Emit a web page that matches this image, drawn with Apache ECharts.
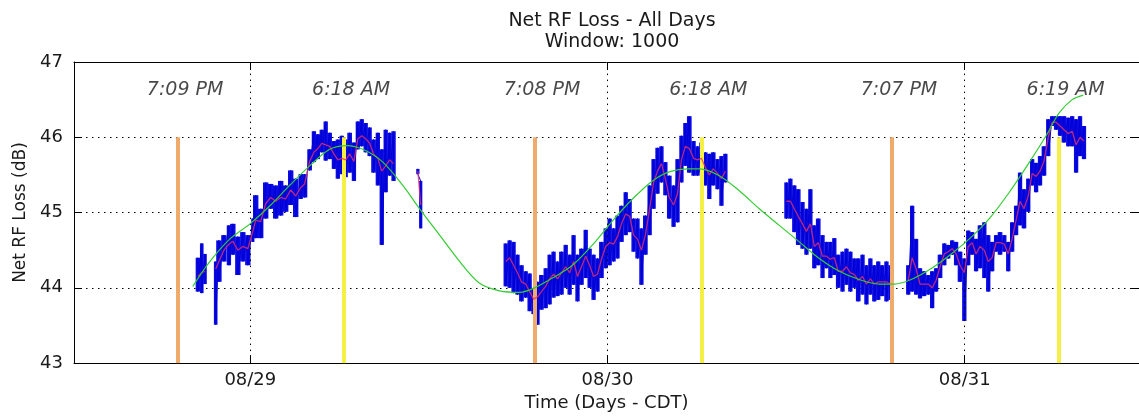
<!DOCTYPE html>
<html><head><meta charset="utf-8">
<script src="https://cdn.jsdelivr.net/npm/echarts@6/dist/echarts.min.js"></script>
<style>html,body{margin:0;padding:0;background:#fff}#c{width:1139px;height:417px}</style>
</head><body><div id="c"></div>
<script>
// time unit: days relative to 08/29 00:00 CDT
const xTickValues = [0, 1, 2];
const xTickLabels = ['08/29', '08/30', '08/31'];
const sunsetTimes = [-0.2021, 0.7972, 1.7965];
const sunsetLabels = ['7:09 PM', '7:08 PM', '7:07 PM'];
const sunriseTimes = [0.2625, 1.2625, 2.2632];
const sunriseLabels = ['6:18 AM', '6:18 AM', '6:19 AM'];
const markerBottom = 43, markerTop = 46, labelLevel = 46.63;

// raw data envelope (per time bin): high / low, and moving average (window 1000)
const rawT = [-0.147,-0.136,-0.127,null,
 -0.097,-0.088,-0.074,-0.060,-0.049,-0.035,-0.021,-0.007,0.007,0.015,0.029,0.043,0.057,0.071,0.085,0.099,
 0.113,0.127,0.141,0.152,0.166,0.178,0.189,0.200,0.211,0.222,0.234,0.245,0.256,0.267,0.278,0.290,
 0.301,0.312,0.323,0.334,0.345,0.357,0.368,0.379,0.390,0.401,null,0.469,0.477,null,
 0.715,0.726,0.737,0.748,0.759,0.771,0.782,0.793,0.804,0.815,0.827,0.838,0.849,0.860,0.871,0.883,
 0.894,0.905,0.916,0.927,0.939,0.950,0.961,0.972,0.983,0.995,1.006,1.017,1.028,1.039,1.051,1.062,
 1.073,1.084,1.095,1.106,1.118,1.129,1.140,1.151,1.162,1.173,1.185,1.196,1.207,1.218,1.229,1.241,
 1.252,1.263,1.274,1.285,1.296,1.308,1.319,1.330,null,
 1.501,1.512,1.523,1.534,1.546,1.557,1.568,1.579,1.590,1.602,1.613,1.624,1.635,1.646,1.658,1.669,
 1.680,1.691,1.702,1.714,1.725,1.736,1.747,1.758,1.769,1.781,1.792,null,
 1.842,1.853,1.864,1.875,1.886,1.898,1.909,1.920,1.931,1.943,1.954,1.965,1.976,1.987,1.999,2.010,
 2.021,2.032,2.043,2.055,2.066,2.077,2.088,2.099,2.111,2.122,2.133,2.144,2.155,2.166,2.178,2.189,
 2.200,2.211,2.222,2.234,2.245,2.256,2.267,2.278,2.290,2.301,2.312,2.323,2.334];
const rawHi = [44.40,44.59,44.45,null,
 44.35,44.63,44.70,44.83,44.85,44.68,44.74,44.70,44.92,45.23,45.05,45.40,45.38,45.36,45.42,45.36,
 45.56,45.45,45.51,45.51,45.84,46.08,46.04,46.10,46.21,46.06,45.95,45.97,46.02,45.97,46.06,45.93,
 46.21,46.24,46.19,46.13,45.97,46.06,45.84,46.10,46.06,46.08,null,45.58,45.42,null,
 44.59,44.63,44.61,44.44,44.30,44.22,44.19,44.00,44.08,44.17,44.26,44.44,44.48,44.35,44.48,44.57,
 44.44,44.70,44.44,44.52,44.77,44.52,44.44,44.39,44.61,44.79,44.92,44.79,44.96,45.09,45.27,45.18,
 44.92,44.92,44.79,44.96,45.36,45.71,45.86,45.88,45.67,45.49,45.36,45.71,46.02,46.19,46.28,45.95,
 45.88,45.93,45.80,45.78,45.80,45.71,45.75,45.78,null,
 45.40,45.45,45.36,45.31,45.14,45.05,45.31,44.83,44.92,44.70,44.61,44.61,44.66,44.44,44.48,44.52,
 44.48,44.39,44.39,44.44,44.30,44.39,44.30,44.35,44.30,44.35,44.30,null,
 44.30,45.09,44.65,44.26,44.22,44.17,44.22,44.26,44.44,44.59,44.57,44.63,44.61,44.48,44.39,44.76,
 44.74,44.65,44.83,44.87,44.70,44.61,44.70,44.74,44.70,44.61,44.87,45.09,45.53,45.31,45.45,45.71,
 45.66,45.75,45.88,46.24,46.28,46.28,46.28,46.28,46.26,46.28,46.24,46.28,46.15];
const rawLo = [43.95,43.93,44.05,null,
 43.51,44.08,44.35,44.30,44.44,44.17,44.35,44.30,44.61,44.66,44.66,44.92,45.05,44.92,44.96,45.01,
 45.10,44.94,45.18,45.20,45.56,45.67,45.71,45.80,45.69,45.71,45.58,45.45,45.51,45.47,45.53,45.42,
 45.84,45.88,45.80,45.75,45.53,45.36,44.57,45.27,45.49,45.42,null,45.51,44.79,null,
 44.02,44.00,43.93,43.91,43.82,43.87,43.69,43.65,43.51,43.71,43.73,43.78,43.87,43.89,43.91,44.00,
 43.91,44.04,43.82,44.04,44.13,44.00,43.84,43.95,44.13,44.26,44.30,44.35,44.39,44.61,44.70,44.74,
 44.48,44.39,44.04,44.44,44.70,45.05,45.25,45.40,45.23,44.92,44.81,44.87,45.40,45.62,45.53,45.49,
 45.49,45.53,45.36,45.18,45.36,45.31,45.09,45.40,null,
 44.92,44.92,44.74,44.57,44.52,44.44,44.52,44.26,44.30,44.13,44.26,44.13,44.17,44.00,43.95,44.04,
 43.95,44.00,43.82,43.91,43.78,43.91,43.82,43.84,43.89,43.82,43.84,null,
 43.91,43.95,43.91,43.86,43.89,43.91,43.73,43.95,44.13,44.30,44.39,44.44,44.30,44.08,43.56,44.30,
 44.44,44.22,44.26,44.13,43.95,44.22,44.48,44.44,44.48,44.22,44.48,44.70,44.83,44.79,45.01,45.36,
 45.27,45.36,45.49,45.75,46.15,46.10,46.02,45.93,45.88,45.88,45.53,45.75,45.71];
const avgV = [44.15,44.20,44.22,null,
 44.25,44.35,44.50,44.58,44.62,44.50,44.55,44.52,44.75,44.90,44.88,45.12,45.20,45.15,45.20,45.18,
 45.30,45.22,45.33,45.38,45.68,45.80,45.85,45.92,45.90,45.88,45.78,45.70,45.72,45.70,45.78,45.68,
 45.98,46.02,45.98,45.92,45.78,45.72,45.55,45.62,45.70,45.65,null,45.55,45.10,null,
 44.35,44.40,44.30,44.20,44.08,44.05,43.95,43.85,43.88,43.95,44.02,44.12,44.18,44.12,44.20,44.28,
 44.20,44.35,44.15,44.28,44.42,44.30,44.15,44.18,44.38,44.55,44.60,44.58,44.68,44.85,44.98,44.95,
 44.70,44.65,44.50,44.70,45.05,45.40,45.55,45.65,45.45,45.20,45.10,45.25,45.70,45.88,45.85,45.72,
 45.70,45.72,45.60,45.50,45.58,45.52,45.45,45.55,null,
 45.15,45.15,45.05,44.95,44.85,44.75,44.85,44.55,44.60,44.42,44.42,44.38,44.40,44.22,44.22,44.28,
 44.20,44.18,44.10,44.15,44.05,44.12,44.05,44.08,44.08,44.08,44.05,null,
 44.10,44.40,44.25,44.05,44.05,44.05,44.00,44.10,44.28,44.45,44.48,44.52,44.45,44.30,44.20,44.55,
 44.60,44.45,44.55,44.50,44.35,44.40,44.60,44.60,44.58,44.45,44.65,44.90,45.15,45.05,45.22,45.52,
 45.48,45.55,45.68,46.00,46.20,46.20,46.15,46.10,46.05,46.08,45.90,46.00,45.95];

// fitted curve
const fitT = [-0.161,-0.113,-0.057,-0.001,0.055,0.110,0.166,0.222,0.270,0.315,0.371,0.427,0.474,0.530,0.586,
 0.642,0.698,0.754,0.796,0.846,0.902,0.958,1.014,1.070,1.126,1.173,1.229,1.257,1.313,1.369,1.425,1.481,
 1.537,1.593,1.649,1.705,1.761,1.803,1.845,1.901,1.957,2.013,2.069,2.125,2.180,2.228,2.264,2.301,2.332];
const fitV = [44.02,44.35,44.65,44.85,45.09,45.36,45.62,45.84,45.89,45.84,45.67,45.36,45.05,44.70,44.35,
 44.06,43.96,43.94,44.00,44.13,44.30,44.57,44.89,45.18,45.42,45.54,45.58,45.58,45.49,45.29,45.05,44.83,
 44.61,44.39,44.22,44.11,44.05,44.05,44.10,44.24,44.43,44.65,44.92,45.27,45.66,46.02,46.32,46.50,46.56];

const FONT = '"DejaVu Sans", Verdana, sans-serif';
const TXT = '#1a1a1a';

const blueLine = [], redData = [], bandData = [];
for (let i = 0; i < rawT.length; i++) {
  if (rawT[i] === null) { blueLine.push(['-', '-']); redData.push(['-', '-']); continue; }
  blueLine.push([rawT[i], rawHi[i]]);
  blueLine.push([rawT[i], rawLo[i]]);
  redData.push([rawT[i], avgV[i]]);
  const prev = i > 0 && rawT[i - 1] !== null ? rawT[i] - rawT[i - 1] : null;
  const next = i < rawT.length - 1 && rawT[i + 1] !== null ? rawT[i + 1] - rawT[i] : null;
  const dt = next !== null ? next : (prev !== null ? prev : 0.006);
  bandData.push([rawT[i], rawHi[i], rawLo[i], dt]);
}
const fitData = fitT.map((t, i) => [t, fitV[i]]);

const sunLines = [];
sunsetTimes.forEach(t => sunLines.push([{coord: [t, markerBottom], lineStyle: {color: '#efab6c'}}, {coord: [t, markerTop]}]));
sunriseTimes.forEach(t => sunLines.push([{coord: [t, markerBottom], lineStyle: {color: '#f6f046'}}, {coord: [t, markerTop]}]));

const labelData = [];
sunsetTimes.forEach((t, i) => labelData.push({value: [t, labelLevel], name: sunsetLabels[i]}));
sunriseTimes.forEach((t, i) => labelData.push({value: [t, labelLevel], name: sunriseLabels[i]}));

const xMin = -0.4937, xMax = 2.4881;

const chart = echarts.init(document.getElementById('c'), null, {renderer: 'canvas'});
chart.setOption({
  animation: false,
  backgroundColor: '#fff',
  title: {
    text: 'Net RF Loss - All Days\nWindow: 1000',
    left: 607, top: 6, textAlign: 'center',
    textStyle: {fontSize: 19, fontWeight: 'normal', lineHeight: 21, color: TXT, fontFamily: FONT}
  },
  grid: {left: 74, right: -1, top: 62, bottom: 51, containLabel: false},
  xAxis: [{
    type: 'value', position: 'bottom', min: xMin, max: xMax,
    axisLine: {show: true, onZero: false, lineStyle: {color: '#000', width: 1}},
    axisTick: {show: true, inside: true, length: 8, customValues: xTickValues, lineStyle: {color: '#000'}},
    axisLabel: {customValues: xTickValues, formatter: v => xTickLabels[xTickValues.indexOf(v)],
      fontSize: 18, color: TXT, margin: 8, fontFamily: FONT},
    splitLine: {show: false},
    name: 'Time (Days - CDT)', nameLocation: 'middle', nameGap: 30,
    nameTextStyle: {fontSize: 18, color: TXT, fontFamily: FONT}
  }, {
    type: 'value', position: 'top', min: xMin, max: xMax,
    axisLine: {show: true, onZero: false, lineStyle: {color: '#000', width: 1}},
    axisTick: {show: true, inside: true, length: 8, customValues: xTickValues, lineStyle: {color: '#000'}},
    axisLabel: {show: false}, splitLine: {show: false}
  }],
  yAxis: [{
    type: 'value', position: 'left', min: 43, max: 47, interval: 1,
    axisLine: {show: true, onZero: false, lineStyle: {color: '#000', width: 1}},
    axisTick: {show: true, inside: true, length: 8, lineStyle: {color: '#000'}},
    axisLabel: {fontSize: 18, color: TXT, margin: 11, fontFamily: FONT},
    splitLine: {show: true, lineStyle: {color: '#000', width: 1, type: [1.5, 4.5]}},
    name: 'Net RF Loss (dB)', nameLocation: 'middle', nameGap: 44,
    nameTextStyle: {fontSize: 17, color: TXT, fontFamily: FONT}
  }, {
    type: 'value', position: 'right', min: 43, max: 47, interval: 1,
    axisLine: {show: true, onZero: false, lineStyle: {color: '#000', width: 1}},
    axisTick: {show: true, inside: true, length: 8, lineStyle: {color: '#000'}},
    axisLabel: {show: false}, splitLine: {show: false}
  }],
  series: [{
    type: 'line', data: [], z: 1, silent: true,
    markLine: {
      silent: true, symbol: ['none', 'none'], label: {show: false}, animation: false,
      lineStyle: {color: '#000', width: 1, type: [1.5, 4.5]},
      data: xTickValues.map(v => ({xAxis: v}))
    }
  }, {
    type: 'line', data: [], z: 2, silent: true,
    markLine: {
      silent: true, symbol: ['none', 'none'], label: {show: false}, animation: false,
      lineStyle: {width: 4, type: 'solid', opacity: 1},
      data: sunLines
    }
  }, {
    name: 'rawBand', type: 'custom', data: bandData, z: 3, silent: true,
    encode: {x: 0, y: [1, 2]},
    renderItem: function (params, api) {
      const top = api.coord([api.value(0), api.value(1)]);
      const bot = api.coord([api.value(0), api.value(2)]);
      const w = Math.max(2, api.size([api.value(3), 0])[0] + 0.4);
      return {type: 'rect', shape: {x: top[0] - w / 2, y: top[1], width: w, height: Math.max(1, bot[1] - top[1])},
        style: {fill: '#0a0ae6'}};
    }
  }, {
    name: 'raw', type: 'line', data: blueLine, z: 4, showSymbol: false, silent: true,
    connectNulls: false,
    lineStyle: {color: '#0000d0', width: 1}
  }, {
    name: 'avg', type: 'line', data: redData, z: 5, showSymbol: false, silent: true,
    connectNulls: false,
    lineStyle: {color: '#e8306a', width: 1.3, opacity: 0.8}
  }, {
    name: 'fit', type: 'line', data: fitData, z: 6, showSymbol: false, silent: true, smooth: 0.3,
    lineStyle: {color: '#33cc33', width: 1.2}
  }, {
    type: 'scatter', data: labelData, z: 7, symbolSize: 0, silent: true,
    label: {show: true, position: 'inside', offset: [7, 0], formatter: p => p.name,
      fontSize: 19, fontStyle: 'italic', color: TXT, fontFamily: FONT}
  }]
});
</script>
</body></html>
